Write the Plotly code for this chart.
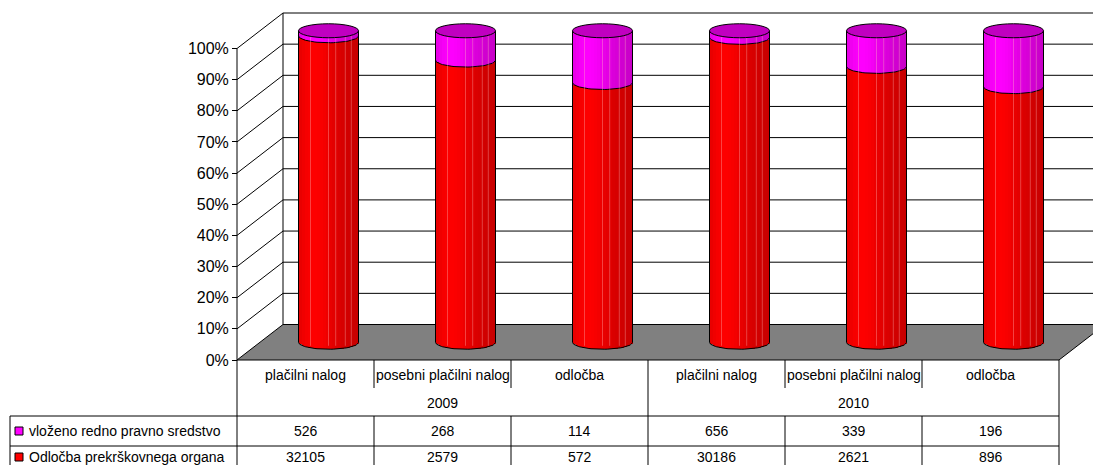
import math
import plotly.graph_objects as go

# ---------------- data ----------------
categories = ["plačilni nalog", "posebni plačilni nalog", "odločba",
              "plačilni nalog", "posebni plačilni nalog", "odločba"]
years = ["2009", "2010"]
series_names = ["vloženo redno pravno sredstvo", "Odločba prekrškovnega organa"]
vlozeno = [526, 268, 114, 656, 339, 196]
odlocba = [32105, 2579, 572, 30186, 2621, 896]
tick_values = [0, 10, 20, 30, 40, 50, 60, 70, 80, 90, 100]

# ---------------- geometry ----------------
W, H = 1093, 465
S = 3.115          # px per percent
CW = 137.0         # px per category
X0 = 305.5         # front frame centre of first category (px)
Y0 = 360.0         # front frame 0% (px)
DX, DY = 46.0, 35.5  # depth offset (back wall)
FONT = "Liberation Sans"

def xr(shift):
    return [-(X0 + shift) / CW, (W - X0 - shift) / CW]

def yr(shift):
    y0 = Y0 - shift
    return [-(H - y0) / S, y0 / S]

n = len(categories)
xs = list(range(n))
red_pct = [o / (o + v) * 100 for o, v in zip(odlocba, vlozeno)]
mag_pct = [100 - r for r in red_pct]

fig = go.Figure()

# cylinder strips (each strip follows the front curve of the cylinder)
CWID = 60.0 / CW
a = CWID / 2
EH = 7.0 / S
NS = 20
prof_x = [0.0, 0.1, 0.25, 0.4, 0.55, 0.7, 0.85, 1.0]
prof_f = [0.90, 0.96, 1.0, 0.97, 0.90, 0.85, 0.81, 0.78]

def shade_at(t):
    for j in range(len(prof_x) - 1):
        if prof_x[j] <= t <= prof_x[j + 1]:
            u = (t - prof_x[j]) / (prof_x[j + 1] - prof_x[j])
            return prof_f[j] + u * (prof_f[j + 1] - prof_f[j])
    return prof_f[-1]

for k in range(NS):
    t = (k + 0.5) / NS
    f = shade_at(t)
    u = 2 * t - 1
    d = EH * math.sqrt(max(0.0, 1 - u * u))
    off = -a + k * CWID / NS
    fig.add_trace(go.Bar(x=xs, y=red_pct, base=[-d] * n, width=CWID / NS + 0.003, offset=off,
                         marker=dict(color=f"rgb({int(255*f)},0,0)", line=dict(width=0)),
                         xaxis="x", yaxis="y", showlegend=False, hoverinfo="skip"))
    fig.add_trace(go.Bar(x=xs, y=[m + d for m in mag_pct], base=[r - d for r in red_pct],
                         width=CWID / NS + 0.003, offset=off,
                         marker=dict(color=f"rgb({int(255*f)},0,{int(255*f)})", line=dict(width=0)),
                         xaxis="x", yaxis="y", showlegend=False, hoverinfo="skip"))

# outline curves (front half ellipses at bottom and at the series boundary)
cx_pts, cy_pts = [], []
NP = 40
for i in xs:
    for level in (0.0, red_pct[i]):
        for p in range(NP + 1):
            ang = math.pi + math.pi * p / NP
            cx_pts.append(i + a * math.cos(ang))
            cy_pts.append(level + EH * math.sin(ang))
        cx_pts.append(None)
        cy_pts.append(None)
fig.add_trace(go.Scatter(x=cx_pts, y=cy_pts, mode="lines", line=dict(color="black", width=1),
                         xaxis="x", yaxis="y", showlegend=False, hoverinfo="skip"))

# dummy traces so the front / back frames exist
fig.add_trace(go.Scatter(x=[], y=[], xaxis="x2", yaxis="y2", showlegend=False))
fig.add_trace(go.Scatter(x=[], y=[], xaxis="x3", yaxis="y3", showlegend=False))

shapes = []
BL = dict(color="black", width=1)

# floor
fx0, fx1 = -0.5, n - 0.5
ddx, ddy = DX / CW, DY / S
shapes.append(dict(type="path", xref="x2", yref="y2", layer="below",
                   path=f"M {fx0},0 L {fx0+ddx},{ddy} L {fx1+ddx},{ddy} L {fx1},0 Z",
                   fillcolor="#808080", line=BL))
# back wall gridlines & edges
for v in tick_values:
    shapes.append(dict(type="line", xref="x3", yref="y3", layer="below",
                       x0=-0.5, x1=n, y0=v, y1=v, line=BL))
shapes.append(dict(type="line", xref="x3", yref="y3", layer="below",
                   x0=-0.5, x1=-0.5, y0=0, y1=100, line=BL))
# left wall diagonals
for v in tick_values[1:]:
    shapes.append(dict(type="line", xref="x2", yref="y2", layer="below",
                       x0=-0.5, y0=v, x1=-0.5 + ddx, y1=v + ddy, line=BL))
# front axis line continuing as table border
shapes.append(dict(type="line", xref="x2", yref="y2", layer="above",
                   x0=-0.5, x1=-0.5, y0=100, y1=yr(0)[0], line=BL))

# cylinder sides, highlights and tops
for i in xs:
    for rel in (0.2, 0.5, 0.62, 0.78, 0.88):
        sx = i - a + rel * CWID
        shapes.append(dict(type="line", xref="x", yref="y", layer="above",
                           x0=sx, x1=sx, y0=-EH * 0.5, y1=100 - EH * 0.5,
                           line=dict(color="rgba(255,190,190,0.35)", width=1)))
    for sx in (i - a, i + a):
        shapes.append(dict(type="line", xref="x", yref="y", layer="above",
                           x0=sx, x1=sx, y0=0, y1=100, line=BL))
    shapes.append(dict(type="circle", xref="x", yref="y", layer="above",
                       x0=i - a, x1=i + a, y0=100 - EH, y1=100 + EH,
                       fillcolor="#C000C0", line=BL))

# ---------------- data table ----------------
def py(p):
    return 1 - p / H

def px(p):
    return p / W

T_TOP, SEP_BOT, CAT_Y, YEAR_Y = 360, 388, 375, 403
LINE1, ROW1_Y, LINE2, ROW2_Y = 416, 431, 446, 457
LEG_LEFT = 10

for b in [0.5, 1.5, 3.5, 4.5]:
    shapes.append(dict(type="line", xref="x2", yref="paper", x0=b, x1=b,
                       y0=py(T_TOP), y1=py(SEP_BOT), line=BL))
    shapes.append(dict(type="line", xref="x2", yref="paper", x0=b, x1=b,
                       y0=py(LINE1), y1=0, line=BL))
for b in [2.5, n - 0.5]:
    shapes.append(dict(type="line", xref="x2", yref="paper", x0=b, x1=b,
                       y0=py(T_TOP), y1=0, line=BL))
shapes.append(dict(type="line", xref="paper", yref="paper", x0=px(LEG_LEFT), x1=px(LEG_LEFT),
                   y0=py(LINE1), y1=0, line=BL))
x_right = (n - 0.5 - xr(0)[0]) / (xr(0)[1] - xr(0)[0])
for ly in (LINE1, LINE2):
    shapes.append(dict(type="line", xref="paper", yref="paper", x0=px(LEG_LEFT),
                       x1=x_right, y0=py(ly), y1=py(ly), line=BL))
# legend keys
for yy, col in ((ROW1_Y, "#FF00FF"), (ROW2_Y, "#FF0000")):
    shapes.append(dict(type="rect", xref="paper", yref="paper",
                       x0=px(15), x1=px(23), y0=py(yy + 4), y1=py(yy - 4),
                       fillcolor=col, line=BL))

ann = []
tf = dict(family=FONT, size=14, color="black")
for i, c in enumerate(categories):
    ann.append(dict(xref="x2", yref="paper", x=i, y=py(CAT_Y), text=c, showarrow=False,
                    font=tf, xanchor="center", yanchor="middle"))
    ann.append(dict(xref="x2", yref="paper", x=i, y=py(ROW1_Y), text=str(vlozeno[i]),
                    showarrow=False, font=tf, xanchor="center", yanchor="middle"))
    ann.append(dict(xref="x2", yref="paper", x=i, y=py(ROW2_Y), text=str(odlocba[i]),
                    showarrow=False, font=tf, xanchor="center", yanchor="middle"))
for j, yname in enumerate(years):
    ann.append(dict(xref="x2", yref="paper", x=1 + 3 * j, y=py(YEAR_Y), text=yname,
                    showarrow=False, font=tf, xanchor="center", yanchor="middle"))
for yy, name in ((ROW1_Y, series_names[0]), (ROW2_Y, series_names[1])):
    ann.append(dict(xref="paper", yref="paper", x=px(27), y=py(yy), text=name,
                    showarrow=False, font=tf, xanchor="left", yanchor="middle"))

hidden = dict(visible=False, showgrid=False, zeroline=False, fixedrange=True)
fig.update_layout(
    width=W, height=H,
    margin=dict(l=0, r=0, t=0, b=0, pad=0),
    paper_bgcolor="white", plot_bgcolor="rgba(0,0,0,0)",
    barmode="overlay", bargap=0, hovermode=False, showlegend=False,
    xaxis=dict(range=xr(DX / 2), domain=[0, 1], **hidden),
    yaxis=dict(range=yr(DY / 2), domain=[0, 1], **hidden),
    xaxis2=dict(range=xr(0), overlaying="x", **hidden),
    yaxis2=dict(range=yr(0), overlaying="y", anchor="free", position=237 / W, side="left",
                visible=True, showgrid=False, zeroline=False, showline=False,
                tickvals=tick_values, ticktext=[f"{v}%" for v in tick_values],
                ticks="outside", ticklen=5, tickcolor="black", tickwidth=1,
                tickfont=dict(family=FONT, size=16, color="black"), automargin=False,
                fixedrange=True),
    xaxis3=dict(range=xr(DX), overlaying="x", **hidden),
    yaxis3=dict(range=yr(DY), overlaying="y", **hidden),
    shapes=shapes, annotations=ann,
    font=dict(family=FONT),
)
fig.write_html("out.html")
